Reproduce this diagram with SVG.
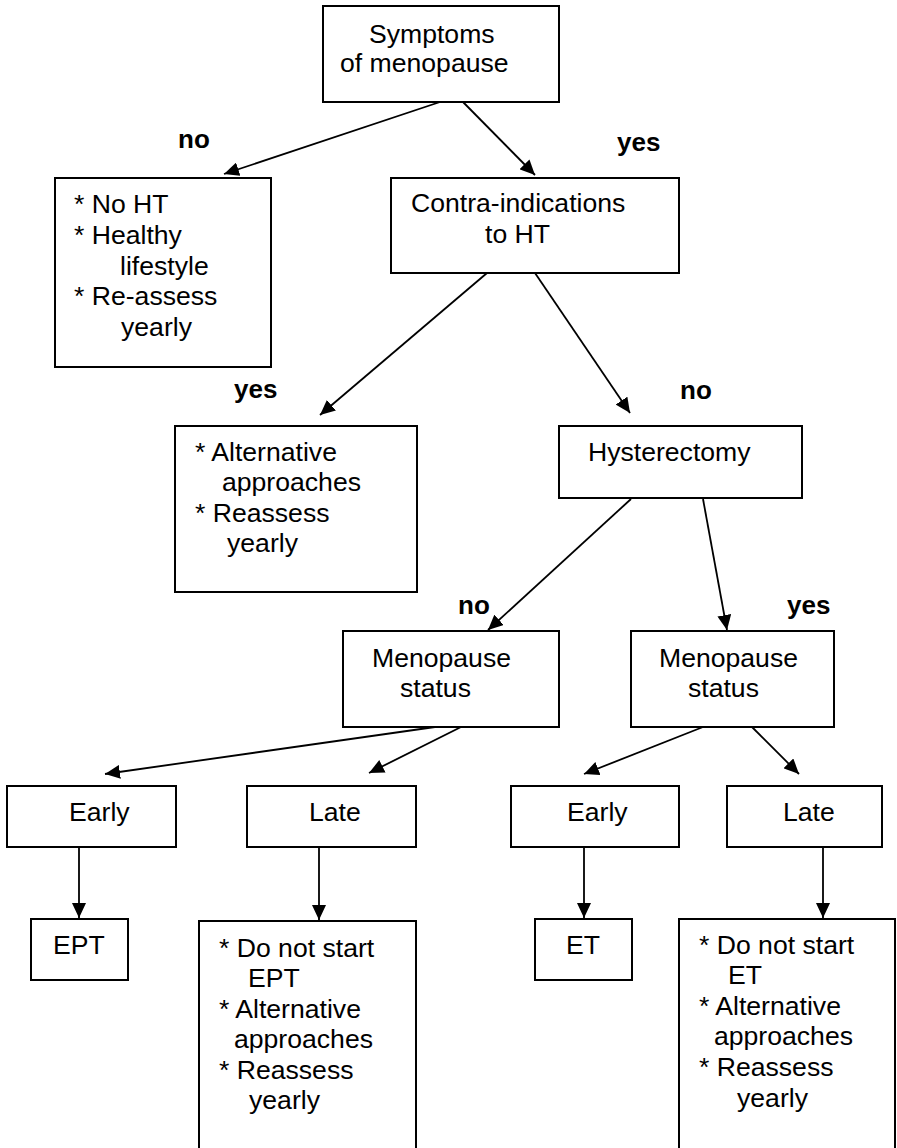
<svg xmlns="http://www.w3.org/2000/svg" width="897" height="1148" viewBox="0 0 897 1148">
<style>
.box{fill:#fff;stroke:#000;stroke-width:2}
.t{font-family:"Liberation Sans",Arial,sans-serif;font-size:26.6px;fill:#000}
.lbl{font-family:"Liberation Sans",Arial,sans-serif;font-size:26px;font-weight:bold;fill:#000}
.c{stroke:#000;stroke-width:1.8;fill:none;marker-end:url(#ah)}
</style>
<defs>
<marker id="ah" viewBox="0 0 15 14" refX="15" refY="7" markerWidth="15" markerHeight="14" markerUnits="userSpaceOnUse" orient="auto">
<path d="M0,0 L15,7 L0,14 Z" fill="#000"/>
</marker>
</defs>
<rect width="897" height="1148" fill="#fff"/>
<g id="connectors">
<line class="c" x1="440" y1="102" x2="224" y2="174"/>
<line class="c" x1="463" y1="102" x2="535" y2="175"/>
<line class="c" x1="487" y1="273" x2="320" y2="415"/>
<line class="c" x1="535" y1="273" x2="630" y2="413"/>
<line class="c" x1="631" y1="499" x2="488" y2="630"/>
<line class="c" x1="703" y1="499" x2="727" y2="630"/>
<line class="c" x1="435" y1="727" x2="105" y2="774"/>
<line class="c" x1="461" y1="727" x2="369" y2="773"/>
<line class="c" x1="703" y1="727" x2="584" y2="774"/>
<line class="c" x1="752" y1="727" x2="799" y2="774"/>
<line class="c" x1="79" y1="847" x2="79" y2="918"/>
<line class="c" x1="319" y1="847" x2="319" y2="920"/>
<line class="c" x1="584" y1="847" x2="584" y2="918"/>
<line class="c" x1="823" y1="847" x2="823" y2="918"/>
</g>
<g id="labels">
<text class="lbl" x="178" y="148">no</text>
<text class="lbl" x="617" y="151">yes</text>
<text class="lbl" x="234" y="398">yes</text>
<text class="lbl" x="680" y="399">no</text>
<text class="lbl" x="458" y="614">no</text>
<text class="lbl" x="787" y="614">yes</text>
</g>
<g id="symptoms">
<rect class="box" x="323" y="6" width="236" height="96"/>
<text class="t"><tspan x="369" y="42.5">Symptoms</tspan><tspan x="340" y="72">of menopause</tspan></text>
</g>
<g id="no-ht">
<rect class="box" x="55" y="178" width="216" height="189"/>
<text class="t"><tspan x="74" y="213">* No HT</tspan><tspan x="74" y="243.5">* Healthy</tspan><tspan x="120" y="274.5">lifestyle</tspan><tspan x="74" y="305">* Re-assess</tspan><tspan x="121" y="336">yearly</tspan></text>
</g>
<g id="contra">
<rect class="box" x="391" y="178" width="288" height="95"/>
<text class="t"><tspan x="411" y="212">Contra-indications</tspan><tspan x="485" y="243">to HT</tspan></text>
</g>
<g id="alternative">
<rect class="box" x="175" y="426" width="242" height="166"/>
<text class="t"><tspan x="195" y="461">* Alternative</tspan><tspan x="222" y="491">approaches</tspan><tspan x="195" y="521.5">* Reassess</tspan><tspan x="227" y="552">yearly</tspan></text>
</g>
<g id="hysterectomy">
<rect class="box" x="559" y="426" width="243" height="72"/>
<text class="t" x="588" y="461">Hysterectomy</text>
</g>
<g id="meno-no">
<rect class="box" x="343" y="631" width="216" height="96"/>
<text class="t"><tspan x="372" y="667">Menopause</tspan><tspan x="400" y="697">status</tspan></text>
</g>
<g id="meno-yes">
<rect class="box" x="631" y="631" width="203" height="96"/>
<text class="t"><tspan x="659" y="667">Menopause</tspan><tspan x="688" y="697">status</tspan></text>
</g>
<g id="early-left">
<rect class="box" x="7" y="786" width="169" height="61"/>
<text class="t" x="69" y="821">Early</text>
</g>
<g id="late-left">
<rect class="box" x="247" y="786" width="169" height="61"/>
<text class="t" x="309" y="821">Late</text>
</g>
<g id="early-right">
<rect class="box" x="511" y="786" width="168" height="61"/>
<text class="t" x="567" y="821">Early</text>
</g>
<g id="late-right">
<rect class="box" x="727" y="786" width="155" height="61"/>
<text class="t" x="783" y="821">Late</text>
</g>
<g id="ept">
<rect class="box" x="31" y="919" width="97" height="61"/>
<text class="t" x="53" y="954">EPT</text>
</g>
<g id="no-ept">
<rect class="box" x="199" y="921" width="217" height="240"/>
<text class="t"><tspan x="219" y="957">* Do not start</tspan><tspan x="248" y="987">EPT</tspan><tspan x="219" y="1018">* Alternative</tspan><tspan x="234" y="1048">approaches</tspan><tspan x="219" y="1079">* Reassess</tspan><tspan x="249" y="1109">yearly</tspan></text>
</g>
<g id="et">
<rect class="box" x="535" y="919" width="97" height="61"/>
<text class="t" x="566" y="954">ET</text>
</g>
<g id="no-et">
<rect class="box" x="679" y="919" width="216" height="240"/>
<text class="t"><tspan x="699" y="953.5">* Do not start</tspan><tspan x="728" y="984">ET</tspan><tspan x="699" y="1015">* Alternative</tspan><tspan x="714" y="1045">approaches</tspan><tspan x="699" y="1076">* Reassess</tspan><tspan x="737" y="1107">yearly</tspan></text>
</g>
</svg>
